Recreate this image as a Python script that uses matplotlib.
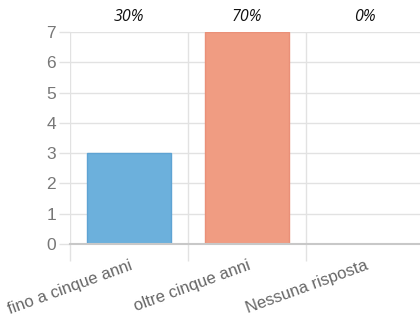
import matplotlib.pyplot as plt

categories = ["fino a cinque anni", "oltre cinque anni", "Nessuna risposta"]
values = [3, 7, 0]
percents = ["30%", "70%", "0%"]
colors = ["#6cb0dc", "#f09c82"]
edge_colors = ["#5ea3d3", "#ea9078"]

fig = plt.figure(figsize=(4.2, 3.2), dpi=100)
ax = fig.add_axes([70 / 420, 0.2375, 354 / 420, 0.6625])

x = list(range(len(categories)))
bar_cols = [colors[i % 2] for i in x]
bar_edges = [edge_colors[i % 2] for i in x]
ax.bar(x, values, width=0.72, color=bar_cols, edgecolor=bar_edges, linewidth=1, zorder=3)

ax.set_xlim(-0.5, len(categories) - 0.5)
ax.set_ylim(0, 7)
ax.set_yticks(range(0, 8))

# gridlines
ax.set_xticks([i - 0.5 for i in range(len(categories) + 1)], minor=True)
ax.grid(True, axis="y", color="#e2e2e2", linewidth=1, zorder=0)
ax.grid(True, axis="x", which="minor", color="#e2e2e2", linewidth=1, zorder=0)
ax.tick_params(axis="x", which="minor", length=12, color="#e2e2e2", width=1)
ax.tick_params(axis="x", which="major", length=0, pad=10)
ax.tick_params(axis="y", length=8, color="#e2e2e2", width=1, labelsize=12.5,
               labelcolor="#777777", pad=2)

ax.set_xticks(x)
ax.set_xticklabels(categories, rotation=20, ha="right", rotation_mode="anchor",
                   fontsize=12, color="#666666")

for s in ["top", "right", "left"]:
    ax.spines[s].set_visible(False)
ax.spines["bottom"].set_color("#c8c8c8")
ax.spines["bottom"].set_linewidth(1.5)
ax.spines["bottom"].set_zorder(4)

for lbl in ax.get_xticklabels() + ax.get_yticklabels():
    lbl.set_family(["Liberation Sans", "DejaVu Sans"])

for i, p in enumerate(percents):
    ax.text(i, 1.07, p, transform=ax.get_xaxis_transform(), ha="center", va="center",
            fontsize=11.5, style="italic", family=["Open Sans", "DejaVu Sans"], color="#111111")

fig.savefig("out.png", dpi=100)
